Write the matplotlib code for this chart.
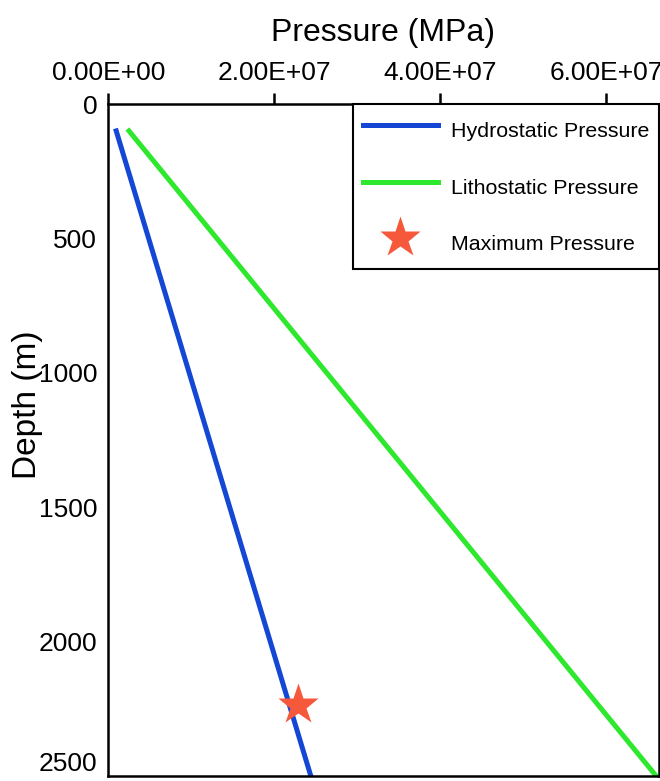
import matplotlib
matplotlib.use("Agg")
import matplotlib.pyplot as plt

plt.rcParams['font.family'] = ['Liberation Sans', 'DejaVu Sans']

# depth (m) and pressure (Pa)
depth = [100, 2500]
hydrostatic = [0.96e6, 2.44e7]
lithostatic = [2.5e6, 6.6e7]
max_depth = [2236]
max_pressure = [2.28e7]

xticks = [0, 2e7, 4e7, 6e7]
xtick_labels = ['0.00E+00', '2.00E+07', '4.00E+07', '6.00E+07']
yticks = [0, 500, 1000, 1500, 2000, 2500]

fig = plt.figure(figsize=(6.6, 7.81), dpi=100)
ax = fig.add_axes([0.164, 0.0064, 0.834, 0.8604])

ax.plot(hydrostatic, depth, color='#1447d4', lw=3.6, label='Hydrostatic Pressure', zorder=2)
ax.plot(lithostatic, depth, color='#2ee82e', lw=3.6, label='Lithostatic Pressure', zorder=2)
ax.plot(max_pressure, max_depth, ls='none', marker='*', ms=31, color='#f6583c',
        mec='none', label='Maximum Pressure', zorder=3)

ax.set_xlim(0, 6.63e7)
ax.set_ylim(2500, 0)
ax.xaxis.tick_top()
ax.xaxis.set_label_position('top')
ax.set_xticks(xticks)
ax.set_xticklabels(xtick_labels)
ax.set_yticks(yticks)
ax.tick_params(axis='x', direction='out', length=8, width=1.8, labelsize=19, pad=6)
ax.tick_params(axis='y', length=0, labelsize=19, pad=8)
# bottom label sits inside the figure like in the original
ax.get_yticklabels()[-1].set_verticalalignment('bottom')
ax.set_xlabel('Pressure (MPa)', fontsize=23, labelpad=14)
ax.set_ylabel('Depth (m)', fontsize=24)
ax.yaxis.set_label_coords(-0.118, 0.552)
for s in ax.spines.values():
    s.set_linewidth(1.8)

leg = ax.legend(loc='upper right', borderaxespad=0, fontsize=15.4, fancybox=False,
                edgecolor='black', framealpha=1, handlelength=3.5, handleheight=2.0,
                handletextpad=0.6, labelspacing=1.1, borderpad=0.45)
leg.get_frame().set_linewidth(1.5)

fig.savefig('out.png', dpi=100)
